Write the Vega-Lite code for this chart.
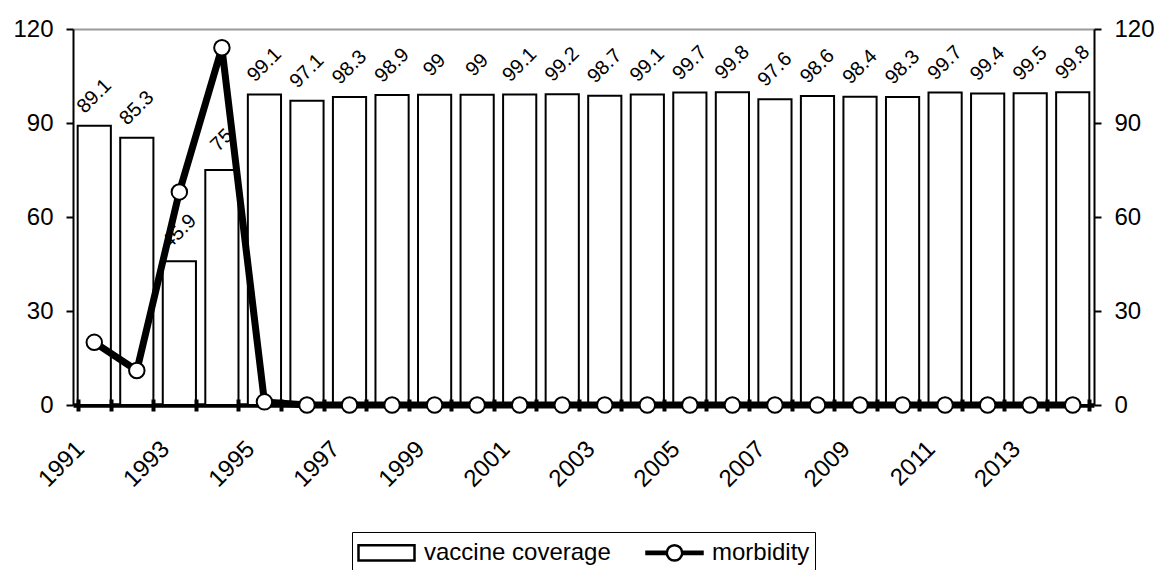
{
  "$schema": "https://vega.github.io/schema/vega-lite/v6.json",
  "width": 1021,
  "height": 376,
  "autosize": {"type": "none"},
  "padding": {"left": 73, "top": 29, "right": 65, "bottom": 165},
  "background": "white",
  "config": {
    "font": "Liberation Sans",
    "view": {"stroke": null},
    "axis": {
      "labelFont": "Liberation Sans",
      "labelColor": "black",
      "labelFontSize": 24,
      "domainColor": "black",
      "tickColor": "black"
    },
    "legend": {"labelFont": "Liberation Sans"}
  },
  "data": {
    "values": [
      {"year": 1991, "vaccine coverage": 89.1, "morbidity": 20},
      {"year": 1992, "vaccine coverage": 85.3, "morbidity": 11},
      {"year": 1993, "vaccine coverage": 45.9, "morbidity": 68},
      {"year": 1994, "vaccine coverage": 75, "morbidity": 114},
      {"year": 1995, "vaccine coverage": 99.1, "morbidity": 1},
      {"year": 1996, "vaccine coverage": 97.1, "morbidity": 0},
      {"year": 1997, "vaccine coverage": 98.3, "morbidity": 0},
      {"year": 1998, "vaccine coverage": 98.9, "morbidity": 0},
      {"year": 1999, "vaccine coverage": 99, "morbidity": 0},
      {"year": 2000, "vaccine coverage": 99, "morbidity": 0},
      {"year": 2001, "vaccine coverage": 99.1, "morbidity": 0},
      {"year": 2002, "vaccine coverage": 99.2, "morbidity": 0},
      {"year": 2003, "vaccine coverage": 98.7, "morbidity": 0},
      {"year": 2004, "vaccine coverage": 99.1, "morbidity": 0},
      {"year": 2005, "vaccine coverage": 99.7, "morbidity": 0},
      {"year": 2006, "vaccine coverage": 99.8, "morbidity": 0},
      {"year": 2007, "vaccine coverage": 97.6, "morbidity": 0},
      {"year": 2008, "vaccine coverage": 98.6, "morbidity": 0},
      {"year": 2009, "vaccine coverage": 98.4, "morbidity": 0},
      {"year": 2010, "vaccine coverage": 98.3, "morbidity": 0},
      {"year": 2011, "vaccine coverage": 99.7, "morbidity": 0},
      {"year": 2012, "vaccine coverage": 99.4, "morbidity": 0},
      {"year": 2013, "vaccine coverage": 99.5, "morbidity": 0},
      {"year": 2014, "vaccine coverage": 99.8, "morbidity": 0}
    ]
  },
  "encoding": {
    "x": {
      "field": "year",
      "type": "ordinal",
      "scale": {"paddingInner": 0.22, "paddingOuter": 0.11},
      "axis": {
        "title": null,
        "domain": false,
        "grid": false,
        "offset": -6,
        "tickSize": 12,
        "tickWidth": 4,
        "tickBand": "extent",
        "labelAngle": -45,
        "labelAlign": "right",
        "labelBaseline": "middle",
        "labelPadding": 34,
        "labelOffset": -14,
        "labelExpr": "datum.value % 2 === 1 ? datum.label : ''",
        "zindex": 1
      }
    }
  },
  "layer": [
    {
      "encoding": {
        "y": {
          "field": "vaccine coverage",
          "type": "quantitative",
          "scale": {"domain": [0, 120], "nice": false},
          "axis": {
            "orient": "left",
            "title": null,
            "values": [0, 30, 60, 90, 120],
            "domainWidth": 2,
            "tickSize": 7,
            "tickWidth": 2,
            "labelPadding": 13,
            "grid": true,
            "gridColor": {"condition": {"test": "datum.value === 0", "value": "black"}, "value": "#9a9a9a"},
            "gridWidth": {"condition": {"test": "datum.value === 0", "value": 4.5}, "value": 2},
            "gridOpacity": {"condition": {"test": "datum.value === 0 || datum.value === 120", "value": 1}, "value": 0}
          }
        }
      },
      "layer": [
        {"mark": {"type": "bar", "fill": "white", "stroke": "black", "strokeWidth": 2}},
        {
          "mark": {
            "type": "text",
            "angle": 315,
            "align": "center",
            "baseline": "middle",
            "dx": 21,
            "dy": -21,
            "fontSize": 20,
            "font": "Liberation Sans",
            "color": "black"
          },
          "encoding": {"text": {"field": "vaccine coverage", "type": "quantitative", "format": ""}}
        }
      ]
    },
    {
      "encoding": {
        "y": {
          "field": "morbidity",
          "type": "quantitative",
          "scale": {"domain": [0, 120], "nice": false},
          "axis": {
            "orient": "right",
            "title": null,
            "values": [0, 30, 60, 90, 120],
            "domainWidth": 2,
            "tickSize": 7,
            "tickWidth": 2,
            "labelPadding": 13,
            "grid": false
          }
        }
      },
      "layer": [
        {"mark": {"type": "line", "color": "black", "strokeWidth": 7}},
        {
          "mark": {
            "type": "point",
            "shape": "circle",
            "filled": true,
            "fill": "white",
            "stroke": "black",
            "strokeWidth": 2,
            "size": 240,
            "opacity": 1
          }
        }
      ]
    },
    {
      "transform": [{"fold": ["vaccine coverage", "morbidity"], "as": ["series", "value"]}],
      "mark": {"type": "point", "opacity": 0},
      "encoding": {
        "y": {"field": "value", "type": "quantitative", "scale": {"domain": [0, 120]}, "axis": null},
        "shape": {
          "field": "series",
          "type": "nominal",
          "scale": {
            "domain": ["vaccine coverage", "morbidity"],
            "range": [
              "M-2,-0.55H2V0.55H-2Z",
              "M-2,-0.08H-0.55V0.08H-2Z M0.55,-0.08H2V0.08H0.55Z M0.55,0A0.55,0.55,0,1,1,-0.55,0A0.55,0.55,0,1,1,0.55,0Z"
            ]
          },
          "legend": {
            "orient": "none",
            "legendX": 279,
            "legendY": 503,
            "direction": "horizontal",
            "title": null,
            "symbolSize": 784,
            "symbolOffset": 14,
            "symbolFillColor": "white",
            "symbolStrokeColor": "black",
            "symbolStrokeWidth": 2.5,
            "symbolOpacity": 1,
            "labelFontSize": 24,
            "labelColor": "black",
            "labelLimit": 400,
            "labelOffset": 22,
            "columnPadding": 30,
            "padding": 5,
            "strokeColor": "black",
            "fillColor": "white",
            "encode": {
              "legend": {"update": {"strokeWidth": {"value": 2}}}
            }
          }
        }
      }
    }
  ],
  "resolve": {"scale": {"y": "independent"}}
}
